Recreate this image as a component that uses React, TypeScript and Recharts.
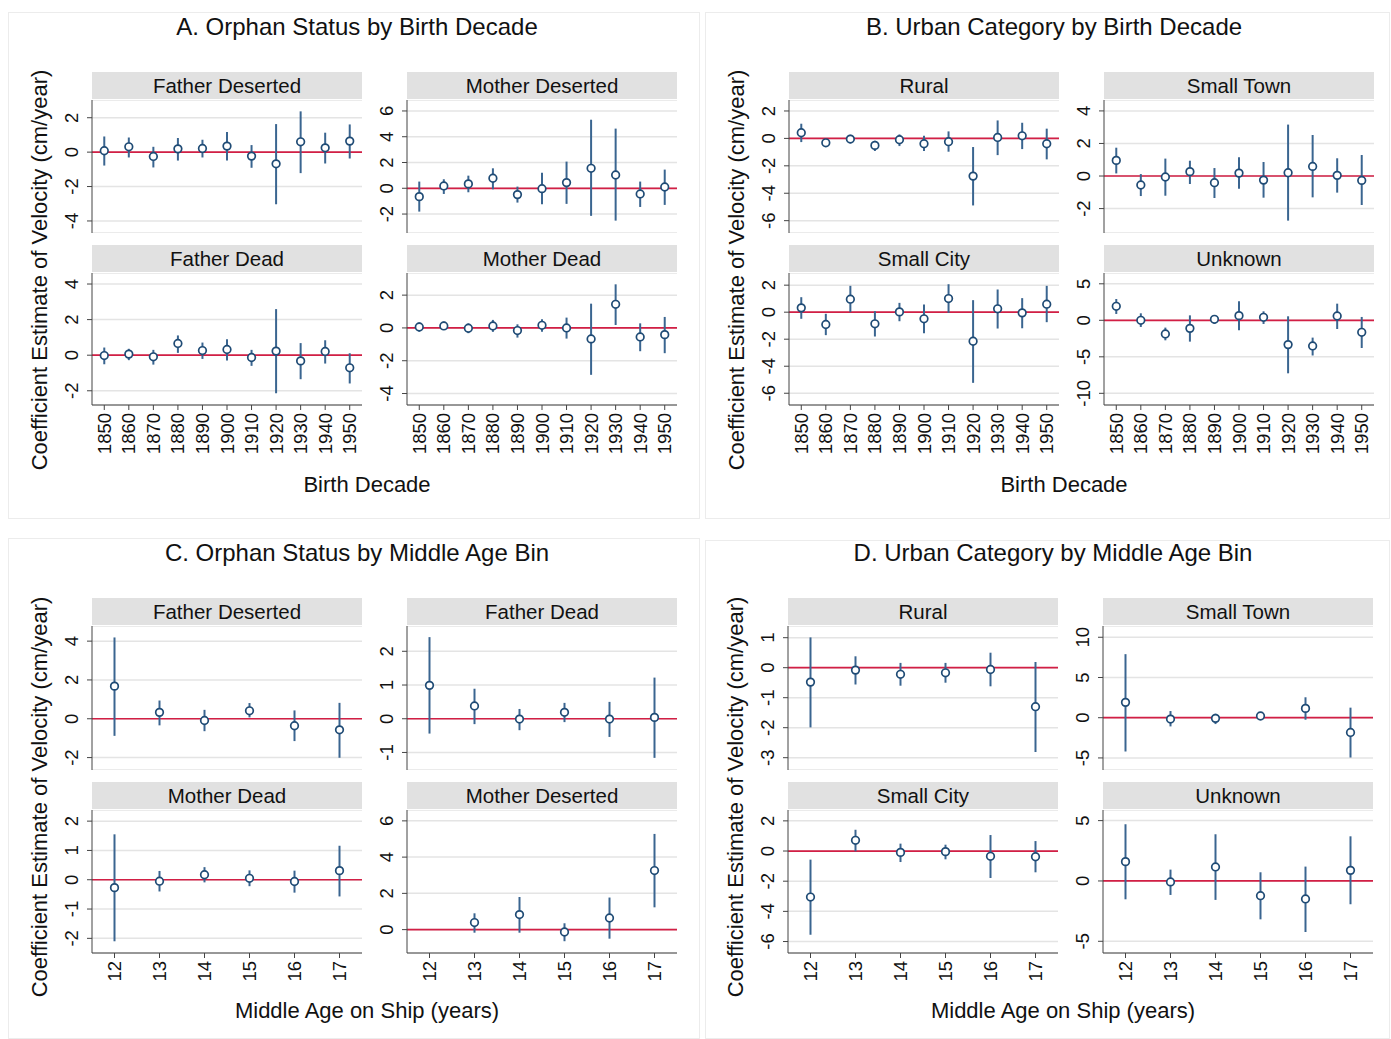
import React from 'react';
import { ScatterChart, Scatter, XAxis, YAxis, CartesianGrid, ReferenceLine, ErrorBar } from 'recharts';

const decades = [1850, 1860, 1870, 1880, 1890, 1900, 1910, 1920, 1930, 1940, 1950];
const ages = [12, 13, 14, 15, 16, 17];
const motherDesertedAges = [13, 14, 15, 16, 17];

// each row: [estimate, lower bound, upper bound]
const aFatherDeserted = [[0.08, -0.78, 0.91], [0.31, -0.31, 0.85], [-0.25, -0.89, 0.31], [0.19, -0.49, 0.82], [0.21, -0.31, 0.72], [0.35, -0.49, 1.17], [-0.23, -0.91, 0.41], [-0.68, -3.03, 1.63], [0.6, -1.22, 2.37], [0.25, -0.66, 1.13], [0.64, -0.37, 1.61]];
const aMotherDeserted = [[-0.65, -1.81, 0.52], [0.18, -0.44, 0.7], [0.34, -0.31, 0.98], [0.78, -0.08, 1.55], [-0.49, -1.11, 0.13], [-0.03, -1.24, 1.21], [0.44, -1.21, 2.07], [1.55, -2.14, 5.32], [1.03, -2.51, 4.63], [-0.44, -1.45, 0.52], [0.1, -1.29, 1.45]];
const aFatherDead = [[-0.02, -0.51, 0.43], [0.06, -0.28, 0.36], [-0.09, -0.53, 0.3], [0.66, 0.13, 1.11], [0.26, -0.21, 0.71], [0.32, -0.3, 0.9], [-0.13, -0.6, 0.3], [0.23, -2.14, 2.59], [-0.32, -1.35, 0.68], [0.21, -0.47, 0.84], [-0.71, -1.59, 0.11]];
const aMotherDead = [[0.06, -0.24, 0.34], [0.12, -0.12, 0.39], [-0.02, -0.32, 0.28], [0.12, -0.24, 0.49], [-0.16, -0.59, 0.22], [0.16, -0.24, 0.53], [0, -0.65, 0.63], [-0.67, -2.86, 1.48], [1.44, 0.18, 2.66], [-0.55, -1.42, 0.28], [-0.41, -1.54, 0.67]];

const bRural = [[0.41, -0.27, 1.07], [-0.32, -0.49, -0.15], [-0.05, -0.36, 0.27], [-0.51, -0.92, -0.17], [-0.1, -0.56, 0.29], [-0.39, -0.92, 0.19], [-0.24, -0.97, 0.51], [-2.75, -4.89, -0.63], [0.07, -1.22, 1.31], [0.19, -0.78, 1.14], [-0.39, -1.53, 0.71]];
const bSmallTown = [[0.96, 0.16, 1.74], [-0.55, -1.23, 0.12], [-0.06, -1.21, 1.07], [0.27, -0.49, 0.94], [-0.41, -1.35, 0.49], [0.18, -0.78, 1.15], [-0.25, -1.33, 0.86], [0.2, -2.74, 3.16], [0.59, -1.31, 2.52], [0.04, -1.02, 1.09], [-0.27, -1.78, 1.29]];
const bSmallCity = [[0.32, -0.49, 1.11], [-0.91, -1.7, -0.12], [0.96, 0, 1.95], [-0.86, -1.8, 0.07], [0.02, -0.67, 0.69], [-0.49, -1.56, 0.57], [1.01, -0.05, 2.07], [-2.15, -5.23, 0.89], [0.25, -1.21, 1.68], [-0.05, -1.19, 1.04], [0.59, -0.74, 1.95]];
const bUnknown = [[1.92, 0.87, 2.92], [0, -0.91, 0.96], [-1.87, -2.74, -1.0], [-1.1, -2.92, 0.68], [0.14, -0.5, 0.64], [0.64, -1.37, 2.6], [0.41, -0.5, 1.23], [-3.33, -7.26, 0.55], [-3.51, -4.82, -2.37], [0.59, -1.19, 2.28], [-1.64, -3.79, 0.46]];

const cFatherDeserted = [[1.68, -0.88, 4.19], [0.33, -0.34, 0.94], [-0.09, -0.64, 0.46], [0.41, 0.07, 0.81], [-0.36, -1.15, 0.43], [-0.57, -2.01, 0.82]];
const cFatherDead = [[0.99, -0.44, 2.42], [0.38, -0.16, 0.89], [-0.01, -0.34, 0.29], [0.19, -0.1, 0.47], [-0.01, -0.54, 0.5], [0.04, -1.16, 1.22]];
const cMotherDead = [[-0.27, -2.1, 1.55], [-0.05, -0.4, 0.3], [0.17, -0.09, 0.43], [0.05, -0.22, 0.32], [-0.06, -0.44, 0.31], [0.31, -0.57, 1.16]];
const cMotherDeserted = [[0.39, -0.17, 0.9], [0.83, -0.17, 1.8], [-0.13, -0.64, 0.35], [0.64, -0.5, 1.77], [3.26, 1.23, 5.28]];

const dRural = [[-0.48, -1.99, 1.01], [-0.08, -0.56, 0.38], [-0.22, -0.6, 0.16], [-0.17, -0.5, 0.16], [-0.06, -0.62, 0.5], [-1.3, -2.81, 0.19]];
const dSmallTown = [[1.91, -4.2, 7.9], [-0.17, -1.08, 0.83], [-0.08, -0.79, 0.5], [0.21, -0.21, 0.54], [1.16, -0.25, 2.54], [-1.83, -4.95, 1.25]];
const dSmallCity = [[-3.05, -5.55, -0.57], [0.71, -0.02, 1.41], [-0.09, -0.73, 0.49], [-0.04, -0.55, 0.42], [-0.35, -1.79, 1.06], [-0.38, -1.41, 0.66]];
const dUnknown = [[1.6, -1.52, 4.7], [-0.08, -1.16, 0.94], [1.16, -1.57, 3.87], [-1.22, -3.18, 0.72], [-1.49, -4.23, 1.19], [0.88, -1.93, 3.7]];

const FONT = '"Liberation Sans", Arial, Helvetica, sans-serif';
const YW = 40;
const NAVY = '#1f4b75';
const CI = '#3a6590';
const RED = '#d21f45';

const YTick = (props: any) => {
  const { y, payload } = props;
  const x = YW - 20;
  return (
    <text x={x} y={y} transform={`rotate(-90 ${x} ${y})`} textAnchor="middle" dominantBaseline="central"
      fontSize={18.5} fontFamily={FONT} fill="#111">{payload.value}</text>
  );
};

const XTick = (props: any) => {
  const { x, y, payload } = props;
  const ty = y + 1;
  return (
    <text x={x} y={ty} transform={`rotate(-90 ${x} ${ty})`} textAnchor="end" dominantBaseline="central"
      fontSize={18.5} fontFamily={FONT} fill="#111">{payload.value}</text>
  );
};

const Marker = (props: any) => (
  <circle cx={props.cx} cy={props.cy} r={3.8} fill="#fff" stroke={NAVY} strokeWidth={1.7} />
);

interface PanelProps {
  left: number; top: number; width: number; height: number; label: string;
  xs: number[]; rows: number[][]; yDomain: [number, number]; yTicks: number[];
  xDomain: [number, number]; xTicks: number[]; showX: boolean; xh: number;
}

function Panel(p: PanelProps) {
  const data = p.xs.map((x, i) => ({
    x,
    y: p.rows[i][0],
    err: [p.rows[i][0] - p.rows[i][1], p.rows[i][2] - p.rows[i][0]],
  }));
  const h = p.height + (p.showX ? p.xh : 0);
  return (
    <>
      <div style={{
        position: 'absolute', left: p.left, top: p.top - 28, width: p.width, height: 27,
        background: '#e1e1e1', textAlign: 'center', lineHeight: '27px', fontSize: 20.5, fontFamily: FONT, color: '#111',
      }}>{p.label}</div>
      <div style={{ position: 'absolute', left: p.left - YW, top: p.top }}>
        <ScatterChart width={p.width + YW} height={h} margin={{ top: 0, right: 0, bottom: 0, left: 0 }}>
          <CartesianGrid vertical={false} stroke="#e4e4e4" strokeWidth={1.5} />
          <XAxis type="number" dataKey="x" domain={p.xDomain} ticks={p.xTicks} interval={0} hide={!p.showX}
            height={p.xh} axisLine={{ stroke: '#444' }} tickLine={{ stroke: '#444' }} tickSize={5} tick={XTick} allowDataOverflow />
          <YAxis type="number" dataKey="y" domain={p.yDomain} ticks={p.yTicks} interval={0} width={YW}
            axisLine={{ stroke: '#444' }} tickLine={{ stroke: '#444' }} tickSize={5} tick={YTick} allowDataOverflow />
          <ReferenceLine y={0} stroke={RED} strokeWidth={1.7} />
          <Scatter data={data} isAnimationActive={false} shape={Marker}>
            <ErrorBar dataKey="err" direction="y" width={0} stroke={CI} strokeWidth={2} isAnimationActive={false} />
          </Scatter>
        </ScatterChart>
      </div>
    </>
  );
}

interface PanelDef { label: string; xs: number[]; rows: number[][]; yDomain: [number, number]; yTicks: number[] }
interface QuadDef {
  title: string; xLabel: string; dx: number; box: [number, number, number, number];
  titleY: number; xLabelY: number; yLabelY: number;
  rowTops: number[]; rowHeights: number[]; xDomain: [number, number]; xTicks: number[]; xh: number;
  panels: PanelDef[];
}

const quads: QuadDef[] = [
  {
    title: 'A. Orphan Status by Birth Decade', xLabel: 'Birth Decade', dx: 0, box: [8, 12, 700, 519],
    titleY: 27, xLabelY: 485, yLabelY: 270, rowTops: [100, 273], rowHeights: [133, 132],
    xDomain: [1845, 1955], xTicks: decades, xh: 55,
    panels: [
      { label: 'Father Deserted', xs: decades, rows: aFatherDeserted, yDomain: [-4.7, 3.03], yTicks: [-4, -2, 0, 2] },
      { label: 'Mother Deserted', xs: decades, rows: aMotherDeserted, yDomain: [-3.47, 6.85], yTicks: [-2, 0, 2, 4, 6] },
      { label: 'Father Dead', xs: decades, rows: aFatherDead, yDomain: [-2.8, 4.62], yTicks: [-2, 0, 2, 4] },
      { label: 'Mother Dead', xs: decades, rows: aMotherDead, yDomain: [-4.7, 3.35], yTicks: [-4, -2, 0, 2] },
    ],
  },
  {
    title: 'B. Urban Category by Birth Decade', xLabel: 'Birth Decade', dx: 697, box: [705, 12, 1390, 519],
    titleY: 27, xLabelY: 485, yLabelY: 270, rowTops: [100, 273], rowHeights: [133, 132],
    xDomain: [1845, 1955], xTicks: decades, xh: 55,
    panels: [
      { label: 'Rural', xs: decades, rows: bRural, yDomain: [-6.9, 2.8], yTicks: [-6, -4, -2, 0, 2] },
      { label: 'Small Town', xs: decades, rows: bSmallTown, yDomain: [-3.5, 4.67], yTicks: [-2, 0, 2, 4] },
      { label: 'Small City', xs: decades, rows: bSmallCity, yDomain: [-6.87, 2.9], yTicks: [-6, -4, -2, 0, 2] },
      { label: 'Unknown', xs: decades, rows: bUnknown, yDomain: [-11.6, 6.48], yTicks: [-10, -5, 0, 5] },
    ],
  },
  {
    title: 'C. Orphan Status by Middle Age Bin', xLabel: 'Middle Age on Ship (years)', dx: 0, box: [8, 538, 700, 1039],
    titleY: 553, xLabelY: 1011, yLabelY: 797, rowTops: [626, 810], rowHeights: [144, 143],
    xDomain: [11.5, 17.5], xTicks: ages, xh: 40,
    panels: [
      { label: 'Father Deserted', xs: ages, rows: cFatherDeserted, yDomain: [-2.64, 4.78], yTicks: [-2, 0, 2, 4] },
      { label: 'Father Dead', xs: ages, rows: cFatherDead, yDomain: [-1.52, 2.75], yTicks: [-1, 0, 1, 2] },
      { label: 'Mother Dead', xs: ages, rows: cMotherDead, yDomain: [-2.5, 2.38], yTicks: [-2, -1, 0, 1, 2] },
      { label: 'Mother Deserted', xs: motherDesertedAges, rows: cMotherDeserted, yDomain: [-1.29, 6.6], yTicks: [0, 2, 4, 6] },
    ],
  },
  {
    title: 'D. Urban Category by Middle Age Bin', xLabel: 'Middle Age on Ship (years)', dx: 696, box: [705, 540, 1390, 1039],
    titleY: 553, xLabelY: 1011, yLabelY: 797, rowTops: [626, 810], rowHeights: [144, 143],
    xDomain: [11.5, 17.5], xTicks: ages, xh: 40,
    panels: [
      { label: 'Rural', xs: ages, rows: dRural, yDomain: [-3.41, 1.39], yTicks: [-3, -2, -1, 0, 1] },
      { label: 'Small Town', xs: ages, rows: dSmallTown, yDomain: [-6.5, 11.4], yTicks: [-5, 0, 5, 10] },
      { label: 'Small City', xs: ages, rows: dSmallCity, yDomain: [-6.76, 2.72], yTicks: [-6, -4, -2, 0, 2] },
      { label: 'Unknown', xs: ages, rows: dUnknown, yDomain: [-5.97, 5.88], yTicks: [-5, 0, 5] },
    ],
  },
];

const colLefts = [92, 407];
const PW = 270;

export default function App() {
  return (
    <div style={{ position: 'absolute', left: 0, top: 0, width: 1391, height: 1039, background: '#fff', fontFamily: FONT, overflow: 'hidden' }}>
      {quads.map((q, qi) => (
        <React.Fragment key={qi}>
          <div style={{
            position: 'absolute', left: q.box[0], top: q.box[1], width: q.box[2] - q.box[0], height: q.box[3] - q.box[1],
            border: '1px solid #ececec', boxSizing: 'border-box',
          }} />
          <div style={{ position: 'absolute', left: 357 + q.dx - 300, top: q.titleY - 15, width: 600, height: 30, lineHeight: '30px', textAlign: 'center', fontSize: 24, color: '#111' }}>{q.title}</div>
          <div style={{ position: 'absolute', left: 367 + q.dx - 300, top: q.xLabelY - 14, width: 600, height: 28, lineHeight: '28px', textAlign: 'center', fontSize: 22, color: '#111' }}>{q.xLabel}</div>
          <div style={{ position: 'absolute', left: 40 + q.dx - 250, top: q.yLabelY - 14, width: 500, height: 28, lineHeight: '28px', textAlign: 'center', fontSize: 22, color: '#111', transform: 'rotate(-90deg)' }}>
            Coefficient Estimate of Velocity (cm/year)
          </div>
          {q.panels.map((pd, pi) => {
            const row = Math.floor(pi / 2);
            const col = pi % 2;
            return (
              <Panel key={pi} left={colLefts[col] + q.dx} top={q.rowTops[row]} width={PW} height={q.rowHeights[row]}
                label={pd.label} xs={pd.xs} rows={pd.rows} yDomain={pd.yDomain} yTicks={pd.yTicks}
                xDomain={q.xDomain} xTicks={q.xTicks} showX={row === 1} xh={q.xh} />
            );
          })}
        </React.Fragment>
      ))}
    </div>
  );
}
